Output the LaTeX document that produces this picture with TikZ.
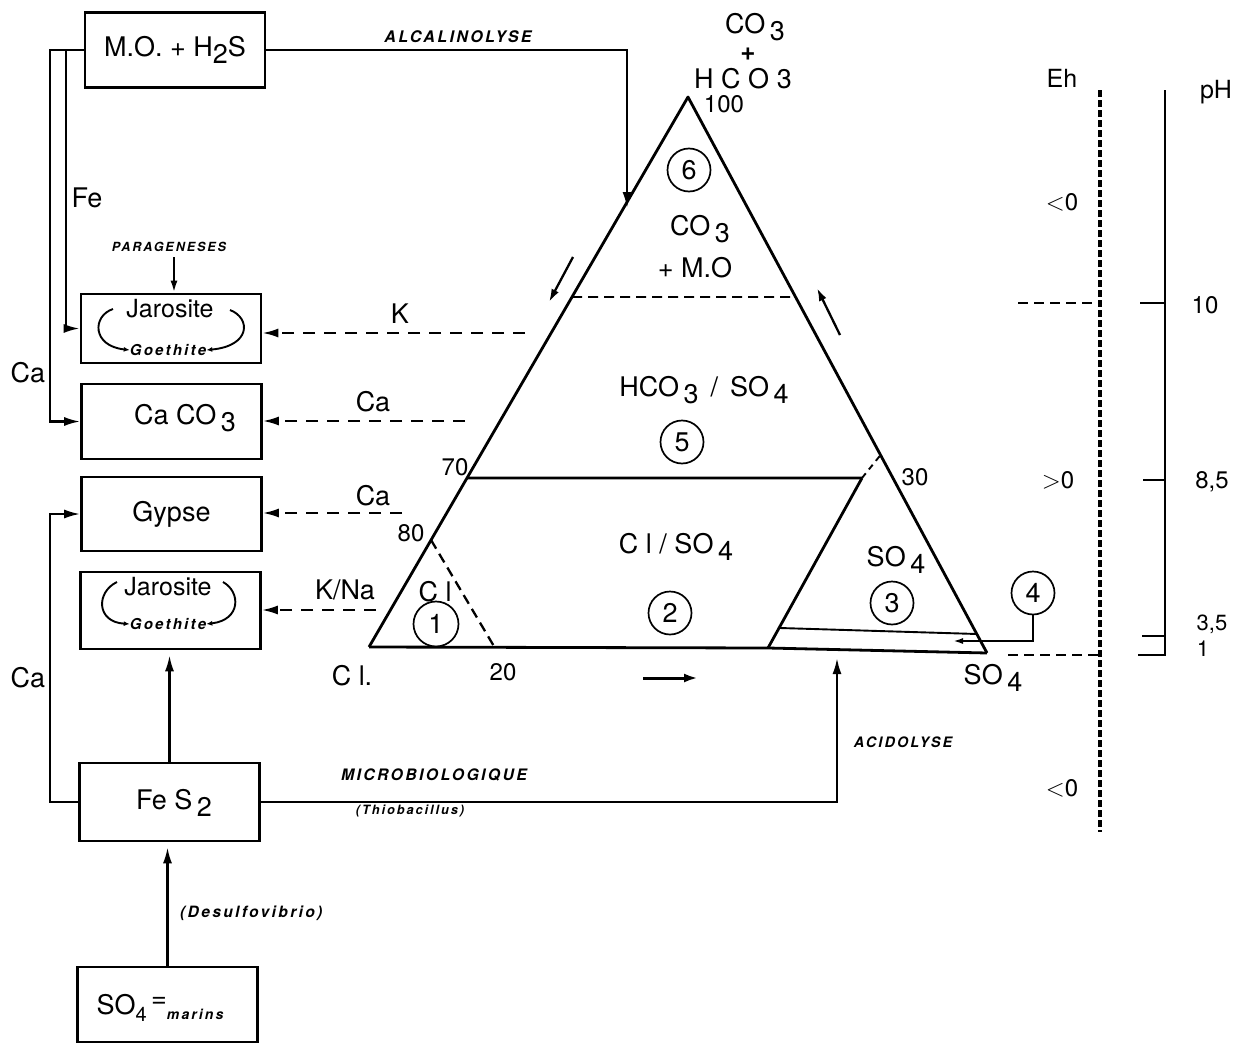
\documentclass[tikz,border=0pt]{standalone}
\usepackage{fontspec}
\setmainfont{TeX Gyre Heros}
\usetikzlibrary{arrows.meta,calc}
\newcommand{\subx}[1]{\raisebox{-0.45ex}{#1}}
\newcommand{\tinyf}[1]{\fontsize{#1}{#1}\selectfont\bfseries\itshape\addfontfeatures{LetterSpace=15}}
\begin{document}
\begin{tikzpicture}[x=1pt,y=-1pt,
  lbl/.style={font=\fontsize{27}{29}\selectfont, inner sep=0},
  sml/.style={font=\fontsize{24}{26}\selectfont, inner sep=0},
  tiny/.style={font=\tinyf{14}, inner sep=0},
  box/.style={draw, line width=2.6pt, minimum width=180pt, minimum height=75pt, inner sep=0, font=\fontsize{27}{29}\selectfont},
  num/.style={draw, circle, line width=1.7pt, minimum size=43pt, inner sep=0, font=\fontsize{27}{29}\selectfont},
  conn/.style={line width=2.3pt},
  arr/.style={conn, -{Latex[length=16pt,width=9pt]}},
  darr/.style={line width=2.2pt, dash pattern=on 12pt off 9pt, -{Latex[length=16pt,width=9pt]}},
  edge/.style={line width=2.8pt, line join=round},
  thin/.style={line width=1.9pt}
]
\useasboundingbox (0,0) rectangle (1251,1044);

% ---------- left boxes ----------
\node[box] (mo) at (175,50) {M.O. + H\subx{2}S};
\node[box, minimum height=69pt] (jar1) at (171,328.5) {};
\node[box] (caco3) at (171.5,421.5) {};
\node[box, minimum height=74pt] (gyp) at (171.5,514) {Gypse};
\node[box, minimum height=77pt] (jar2) at (170.5,610.5) {};
\node[box, minimum height=78pt] (fes2) at (169.5,802) {};
\node[box] (so4) at (167.5,1004.5) {};

\node[lbl] (tcaco3) at (185,418) {Ca CO\subx{\,3}};
\node[lbl] (tfes2) at (174,803) {Fe S\subx{\,2}};
\node[lbl] (tso4) at (160,1008) {SO\subx{\fontsize{20}{22}\selectfont 4}\,\raisebox{0.55ex}{=}\raisebox{-0.3ex}{\tinyf{14}marins}};

% jarosite / goethite contents
\node[sml, font=\fontsize{25}{27}\selectfont] (j1) at (170,309) {Jarosite};
\node[tiny, font=\tinyf{15}] (g1) at (168,350) {Goethite};
\draw[thin, -{Latex[length=6pt,width=5pt]}] (113,309) .. controls (92,316) and (92,346) .. (g1.west);
\draw[thin, -{Latex[length=6pt,width=5pt]}] (230,310) .. controls (251,318) and (251,346) .. (g1.east);
\node[sml, font=\fontsize{25}{27}\selectfont] (j2) at (168,587) {Jarosite};
\node[tiny, font=\tinyf{15}] (g2) at (168,624) {Goethite};
\draw[thin, -{Latex[length=6pt,width=5pt]}] (117,582) .. controls (96,592) and (96,622) .. (g2.west);
\draw[thin, -{Latex[length=6pt,width=5pt]}] (223,582) .. controls (241,592) and (241,620) .. (g2.east);

% left connectors
\coordinate (moj) at (66,50);
\draw[arr] (mo.west) -- (50,50) |- (caco3.west);
\draw[arr] (moj) |- (jar1.west);
\draw[arr] (fes2.west) -- (50,802) |- (gyp.west);
\node[lbl] (ca1) at (28,373) {Ca};
\node[lbl] (ca2) at (28,678) {Ca};
\node[lbl] (fe) at (87,198) {Fe};
\node[tiny, font=\tinyf{12.6}] (para) at (169,247) {PARAGENESES};
\coordinate (par) at (174,257);
\draw[arr, -{Latex[length=12pt,width=7pt]}] (par) -- (par |- jar1.north);
\draw[arr, shorten >=5pt] (fes2.north) -- (fes2.north |- jar2.south);
\draw[arr, shorten >=5pt] (so4.north) -- (so4.north |- fes2.south);
\node[tiny, font=\tinyf{15.6}, anchor=west] (desulf) at (180,913) {(Desulfovibrio)};

% ---------- triangle ----------
\coordinate (A) at (688,97);
\coordinate (L) at (369,647);
\coordinate (R) at (987,653);
\coordinate (B3) at (768,648);
\draw[edge] (L) -- (A) -- (R);
\draw[edge] (L) -- (B3) -- (R);
% CO3 dashed line
\draw[thin, dash pattern=on 10pt off 6pt] ($(A)!0.3636!(L)$) -- ($(A)!0.3597!(R)$);
% 70 line
\coordinate (P70) at ($(A)!0.6927!(L)$);
\coordinate (Q70) at (862,478);
\draw[edge] (P70) -- (Q70);
\draw[thin, dash pattern=on 6pt off 5pt] (Q70) -- ($(A)!0.6439!(R)$);
\draw[edge] (Q70) -- (B3);
% 80 - 20 dashed
\draw[line width=2.3pt, dash pattern=on 10pt off 6pt] ($(A)!0.8055!(L)$) -- (495,648);
% region 3 inner bottom line
\draw[thin] (780,628) -- (977,634);

% edge arrows
\coordinate (la1) at (573,257);
\coordinate (la2) at (549,302);
\draw[arr, -{Latex[length=13pt,width=8pt]}] (la1) -- (la2);
\coordinate (ra1) at (840,335);
\coordinate (ra2) at (817,288);
\draw[arr, -{Latex[length=13pt,width=8pt]}] (ra1) -- (ra2);
\coordinate (ba1) at (643,678);
\coordinate (ba2) at (698,678);
\draw[arr, line width=3pt, -{Latex[length=14pt,width=9pt]}] (ba1) -- (ba2);

% triangle labels
\node[lbl] (tco3) at (755,27) {CO\subx{\,3}};
\node[lbl, font=\fontsize{26}{28}\selectfont\bfseries] (tplus) at (748,54) {+};
\node[lbl] (thco3) at (743,79) {H C O 3};
\node[sml] (t100) at (724,104) {100};
\node[num] (c6) at (689,170) {6};
\node[lbl] (co3b) at (700,229) {CO\subx{\,3}};
\node[lbl] (mob) at (695,268) {+ M.O};
\node[lbl] (hco3so4) at (704,390) {HCO\subx{\,3} \,/\, SO\subx{\,4}};
\node[num] (c5) at (682,442) {5};
\node[sml] (n70) at (455,467) {70};
\node[sml] (n30) at (915,477) {30};
\node[sml] (n80) at (411,533) {80};
\node[sml] (n20) at (503,672) {20};
\node[lbl] (clso4) at (676,547) {C l / SO\subx{\,4}};
\node[num] (c2) at (670,613) {2};
\node[lbl] (clr) at (435,592) {C l};
\node[num, minimum size=45pt] (c1) at (436,624) {1};
\node[lbl] (so4r) at (896,560) {SO\subx{\,4}};
\node[num] (c3) at (892,603) {3};
\node[lbl] (so4v) at (993,678) {SO\subx{\,4}};
\node[lbl] (clv) at (352,676) {C l.};

% region 4
\node[num] (c4) at (1033,593) {4};
\coordinate (c4tip) at (953,641);
\draw[thin, -{Latex[length=10pt,width=6pt]}] (c4.south) |- (c4tip);

% alcalinolyse / acidolyse
\coordinate (alc) at (627,208);
\draw[arr] (mo.east) -| (alc);
\node[tiny, font=\tinyf{16}] (talc) at (458,37) {ALCALINOLYSE};
\coordinate (acid) at (837,658);
\draw[arr] (fes2.east) -| (acid);
\node[tiny, font=\tinyf{14.4}] (tacid) at (903,742) {ACIDOLYSE};
\node[tiny, font=\tinyf{15.8}] (tmicro) at (434,775) {MICROBIOLOGIQUE};
\node[tiny, font=\tinyf{12.8}] (tthio) at (410,811) {(Thiobacillus)};

% dashed arrows to boxes
\coordinate (k) at (525,333);
\draw[darr] (k) -- (jar1.east |- k);
\node[lbl] (tk) at (400,314) {K};
\coordinate (cak) at (465,421);
\draw[darr] (cak) -- (caco3.east |- cak);
\node[lbl] (tca1) at (373,402) {Ca};
\coordinate (cag) at (402,513);
\draw[darr] (cag) -- (gyp.east |- cag);
\node[lbl] (tca2) at (373,496) {Ca};
\coordinate (kna) at (376,610);
\draw[darr] (kna) -- (jar2.east |- kna);
\node[lbl] (tkna) at (345,590) {K/Na};

% ---------- Eh / pH scales ----------
\node[sml, font=\fontsize{25}{27}\selectfont] (eh) at (1062,78) {Eh};
\node[sml, font=\fontsize{25}{27}\selectfont] (ph) at (1216,92) {pH};
\coordinate (eht) at (1100,90);
\coordinate (ehb) at (1100,832);
\draw[line width=4pt, dash pattern=on 7pt off 3pt] (eht) -- (ehb);
\coordinate (d10) at (1018,303);
\draw[thin, dash pattern=on 10pt off 6pt] (d10) -- (d10 -| eht);
\coordinate (d1) at (1008,655);
\draw[thin, dash pattern=on 10pt off 6pt] (d1) -- (d1 -| eht);
\node[sml] (lt1) at (1062,202) {$<$0};
\node[sml] (gt0) at (1058,480) {$>$0};
\node[sml] (lt2) at (1062,788) {$<$0};
\coordinate (pht) at (1165,90);
\coordinate (phb) at (1165,655);
\draw[line width=2.8pt] (pht) -- (phb) -- (1138,655);
\draw[thin] (1140,303) -- (1165,303);
\draw[thin] (1143,480) -- (1165,480);
\draw[thin] (1142,636) -- (1165,636);
\node[sml] (p10) at (1205,305) {10};
\node[sml] (p85) at (1212,482) {8,5};
\node[sml, font=\fontsize{22}{24}\selectfont] (p35) at (1212,624) {3,5};
\node[sml, font=\fontsize{22}{24}\selectfont] (p1) at (1203,649) {1};
\end{tikzpicture}
\end{document}
